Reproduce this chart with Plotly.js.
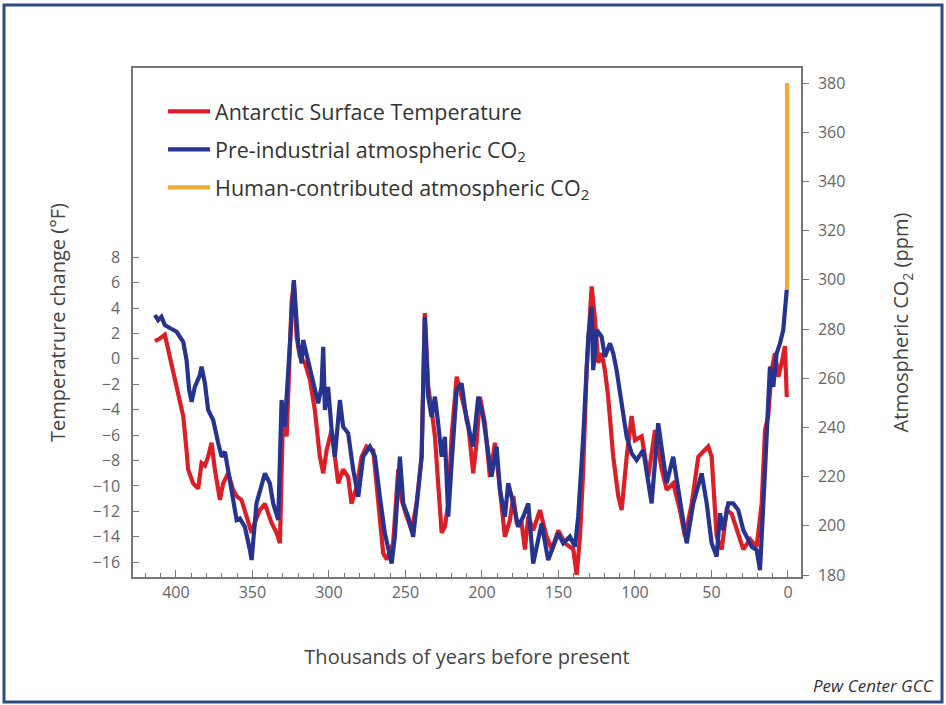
<!DOCTYPE html>
<html>
<head>
<meta charset="utf-8">
<script src="https://cdn.plot.ly/plotly-3.0.1.min.js"></script>
<style>
  html, body { margin: 0; padding: 0; background: #ffffff; }
  #chart { width: 946px; height: 705px; }
</style>
</head>
<body>
<div id="chart"></div>
<script>
// Antarctic surface temperature change (°F) vs thousands of years before present
const tempAge = [413.7, 410.5, 407.2, 403.9, 399.5, 395.2, 393.0, 392.0, 388.7, 385.4,
  383.2, 381.0, 378.9, 376.7, 374.5, 371.2, 369.1, 365.8, 362.6, 360.3,
  357.1, 350.5, 348.4, 345.1, 341.8, 337.5, 334.2, 332.0, 329.9, 327.6,
  324.4, 322.9, 321.1, 319.0, 315.7, 312.4, 309.2, 305.9, 303.7, 301.5,
  298.2, 296.1, 293.9, 290.7, 287.4, 285.2, 281.9, 278.6, 275.4, 271.0,
  267.8, 264.5, 262.2, 258.0, 254.7, 252.5, 249.2, 245.9, 242.7, 239.4,
  237.3, 235.1, 232.9, 230.7, 228.6, 226.3, 224.2, 222.0, 219.8, 216.5,
  214.4, 212.2, 209.0, 205.7, 203.5, 201.3, 198.0, 194.8, 191.5, 188.2,
  185.0, 181.7, 179.5, 177.3, 174.1, 171.9, 169.7, 166.5, 162.1, 157.7,
  154.4, 150.1, 145.8, 140.3, 138.1, 135.9, 133.8, 131.6, 129.4, 128.3,
  126.1, 124.0, 121.8, 119.6, 117.5, 114.2, 110.9, 108.7, 105.4, 102.2,
  100.0, 95.6, 91.3, 86.9, 82.5, 79.3, 75.0, 70.6, 67.3, 62.9,
  58.6, 52.1, 49.9, 46.6, 43.3, 40.1, 36.8, 33.5, 29.2, 24.8,
  20.5, 17.2, 15.0, 12.9, 10.7, 8.5, 6.3, 4.1, 2.0, 0.8];
const tempVal = [1.4, 1.6, 1.9, 0.2, -2.2, -4.5, -7.2, -8.7, -9.8, -10.2,
  -8.2, -8.4, -7.7, -6.6, -8.7, -11.1, -9.8, -9.0, -10.3, -10.8,
  -11.1, -13.7, -12.9, -11.9, -11.4, -12.9, -13.7, -14.5, -4.0, -6.1,
  4.4, 6.0, 1.75, 0.2, -0.3, -1.65, -4.0, -7.7, -9.0, -7.2,
  -5.6, -7.7, -9.8, -8.7, -9.3, -11.4, -10.1, -7.7, -6.9, -7.2,
  -11.3, -15.3, -15.8, -14.5, -8.7, -11.1, -12.4, -13.5, -11.4, -7.7,
  3.6, -2.2, -4.0, -6.1, -9.8, -13.7, -13.2, -11.4, -6.1, -1.4,
  -2.4, -3.5, -5.1, -9.0, -6.6, -3.0, -5.1, -9.3, -6.6, -10.3,
  -14.0, -12.7, -10.8, -12.9, -12.9, -15.0, -12.4, -13.5, -11.9, -14.0,
  -15.0, -13.5, -14.5, -15.0, -17.0, -14.0, -8.7, -0.9, 4.4, 5.7,
  3.1, -0.3, 0.45, -0.9, -3.0, -7.7, -10.8, -11.9, -7.7, -4.5,
  -6.4, -6.1, -9.3, -5.6, -8.7, -10.3, -9.8, -11.9, -14.0, -11.4,
  -7.7, -6.9, -7.7, -14.0, -15.0, -11.9, -12.2, -13.5, -15.0, -14.2,
  -14.8, -11.4, -5.6, -4.5, -0.9, 0.45, -1.4, -0.3, 1.0, -3.0];

// Pre-industrial atmospheric CO2 (ppm)
const co2Age = [413.7, 411.6, 409.4, 407.2, 403.9, 399.5, 395.2, 393.0, 391.3, 389.7,
  387.6, 384.3, 383.2, 381.0, 378.9, 375.6, 372.3, 370.1, 367.9, 365.8,
  362.6, 360.3, 358.2, 354.9, 351.6, 350.5, 347.3, 344.0, 341.8, 338.6,
  336.4, 333.1, 330.9, 328.8, 326.6, 324.4, 322.9, 320.1, 317.8, 316.8,
  313.5, 311.3, 309.2, 307.0, 304.8, 303.7, 302.6, 300.5, 298.2, 296.1,
  292.8, 290.7, 287.4, 284.1, 280.8, 277.6, 273.2, 269.9, 266.7, 263.4,
  259.0, 256.9, 253.6, 251.4, 248.2, 244.9, 241.6, 239.4, 237.3, 235.1,
  232.9, 230.7, 228.6, 226.3, 224.2, 222.0, 219.8, 216.5, 213.3, 210.0,
  205.7, 202.4, 199.2, 195.9, 193.7, 190.4, 188.2, 185.0, 182.8, 179.5,
  176.3, 173.0, 169.7, 166.5, 163.2, 161.0, 156.7, 153.4, 150.1, 146.9,
  144.6, 142.5, 139.2, 137.1, 133.8, 130.5, 128.3, 127.3, 125.0, 121.8,
  119.6, 116.3, 114.2, 112.0, 108.7, 105.4, 102.2, 98.9, 94.6, 89.1,
  84.8, 81.5, 79.3, 75.0, 70.6, 66.2, 61.9, 56.4, 53.1, 49.9,
  46.6, 44.4, 42.3, 39.0, 35.8, 32.5, 29.2, 23.7, 20.5, 18.3,
  15.0, 11.8, 9.6, 7.4, 5.2, 3.1, 0.8];
const co2Val = [285.7, 283.6, 285, 281.6, 280.4, 278.9, 274.8, 267.4, 255.2, 250.4,
  256.5, 261.3, 264.7, 257.9, 247.1, 243, 233.6, 228.1, 230.1, 222.7,
  211.8, 202.4, 203.0, 199.6, 190.2, 186.1, 209.1, 217.3, 221.3, 217.3,
  209.1, 202.4, 251.1, 240.3, 263.3, 290.4, 299.9, 274.2, 266, 275.5,
  267.4, 260.6, 256.5, 249.8, 256.5, 272.8, 247.1, 256.5, 238.9, 228.1,
  251.1, 240.3, 237.6, 222.7, 211.8, 228.1, 232.2, 228.1, 211.8, 196.9,
  184.7, 195.6, 228.1, 209.1, 203.7, 195.6, 214.6, 228.1, 285, 252.5,
  244.3, 252.5, 241.7, 228.1, 236.2, 203.7, 225.4, 255.2, 257.9, 243,
  232.2, 252.5, 244.3, 228.1, 220, 232.2, 214.6, 203.7, 217.3, 209.1,
  199.6, 203.7, 209.1, 184.7, 195.6, 201, 186.1, 191.5, 197, 192.9,
  194.2, 195.6, 191.5, 203.7, 236.2, 276.9, 289.1, 263.3, 279.6, 276.9,
  268.7, 274.2, 270.1, 263.3, 249.8, 236.2, 229.5, 226.7, 230.8, 209.1,
  241.7, 228.1, 217.3, 228.1, 209.1, 192.9, 209.1, 221.3, 209.1, 192.9,
  187.5, 205.1, 198.3, 209.1, 209.1, 206.4, 198.3, 191.5, 190.2, 182,
  222.7, 264.7, 256.5, 270.1, 274.2, 279.6, 295.9];

// Human-contributed atmospheric CO2 (ppm)
const humanAge = [0.6, 0.6];
const humanCO2 = [295.9, 380];

// Axis ticks
const tempTicks = [-16, -14, -12, -10, -8, -6, -4, -2, 0, 2, 4, 6, 8];
const co2Ticks = [180, 200, 220, 240, 260, 280, 300, 320, 340, 360, 380];

const seriesNames = ['Antarctic Surface Temperature',
  'Pre-industrial atmospheric CO<sub>2</sub>',
  'Human-contributed atmospheric CO<sub>2</sub>'];

const tickFont = {family: 'Liberation Sans Narrow, Open Sans, sans-serif', size: 16, color: '#666'};
const titleFont = {family: 'Open Sans, sans-serif', size: 20, color: '#444'};
const axisCol = '#777';

const traces = [
  {x: tempAge, y: tempVal, type: 'scatter', mode: 'lines', name: seriesNames[0],
   legendgroup: 'a', yaxis: 'y', line: {color: '#dc1f26', width: 4.2}},
  {x: co2Age, y: co2Val, type: 'scatter', mode: 'lines', name: seriesNames[1],
   legendgroup: 'b', yaxis: 'y2', line: {color: '#27348f', width: 4.2}},
  {x: humanAge, y: humanCO2, type: 'scatter', mode: 'lines', name: seriesNames[2],
   legendgroup: 'c', yaxis: 'y2', line: {color: '#f2aa35', width: 4.2}}
];

const layout = {
  width: 946, height: 705,
  margin: {l: 133, r: 145, t: 68, b: 128},
  paper_bgcolor: '#ffffff', plot_bgcolor: '#ffffff',
  showlegend: true,
  legend: {x: 0.045, y: 0.955, xanchor: 'left', yanchor: 'top', itemwidth: 42,
    bgcolor: 'rgba(0,0,0,0)', traceorder: 'grouped', tracegroupgap: 7,
    font: {family: 'Open Sans, sans-serif', size: 21.5, color: '#333'}},
  xaxis: {range: [428, -8.5], tick0: 0, dtick: 50, ticks: 'inside', ticklen: 7,
    tickcolor: axisCol, showline: true, linecolor: axisCol, linewidth: 1.5, mirror: true,
    showgrid: false, zeroline: false, tickfont: tickFont, ticklabelstandoff: 0,
    minor: {dtick: 10, ticks: 'inside', ticklen: 4, tickcolor: axisCol, showgrid: false},
    title: {text: 'Thousands of years before present', font: titleFont, standoff: 48}},
  yaxis: {range: [-17.17, 22.9], tickvals: tempTicks, ticks: 'inside', ticklen: 6,
    tickcolor: axisCol, showline: true, linecolor: axisCol, linewidth: 1.5,
    showgrid: false, zeroline: false, tickfont: tickFont, ticklabelstandoff: 8,
    title: {text: 'Temperatrure change (°F)', font: titleFont, standoff: 22}},
  yaxis2: {range: [179.2, 386.1], tickvals: co2Ticks, overlaying: 'y', side: 'right',
    ticks: 'outside', ticklen: 6, tickcolor: axisCol, showline: true, linecolor: axisCol,
    linewidth: 1.5, showgrid: false, zeroline: false, tickfont: tickFont, ticklabelstandoff: 6,
    title: {text: 'Atmospheric CO<sub>2</sub> (ppm)', font: titleFont, standoff: 50}},
  shapes: [
    {type: 'rect', xref: 'paper', yref: 'paper', x0: -0.1931, x1: 1.2111, y0: -0.2456, y1: 1.1238,
     line: {color: '#2d4d7f', width: 3}, fillcolor: 'rgba(0,0,0,0)', layer: 'above'}
  ],
  annotations: [
    {xref: 'paper', yref: 'paper', x: 1.109, y: -0.214, xanchor: 'center', yanchor: 'middle',
     text: '<i>Pew Center GCC</i>', showarrow: false,
     font: {family: 'Liberation Sans Narrow, Open Sans, sans-serif', size: 17, color: '#333'}}
  ]
};

Plotly.newPlot('chart', traces, layout, {displayModeBar: false, responsive: false});
</script>
</body>
</html>
